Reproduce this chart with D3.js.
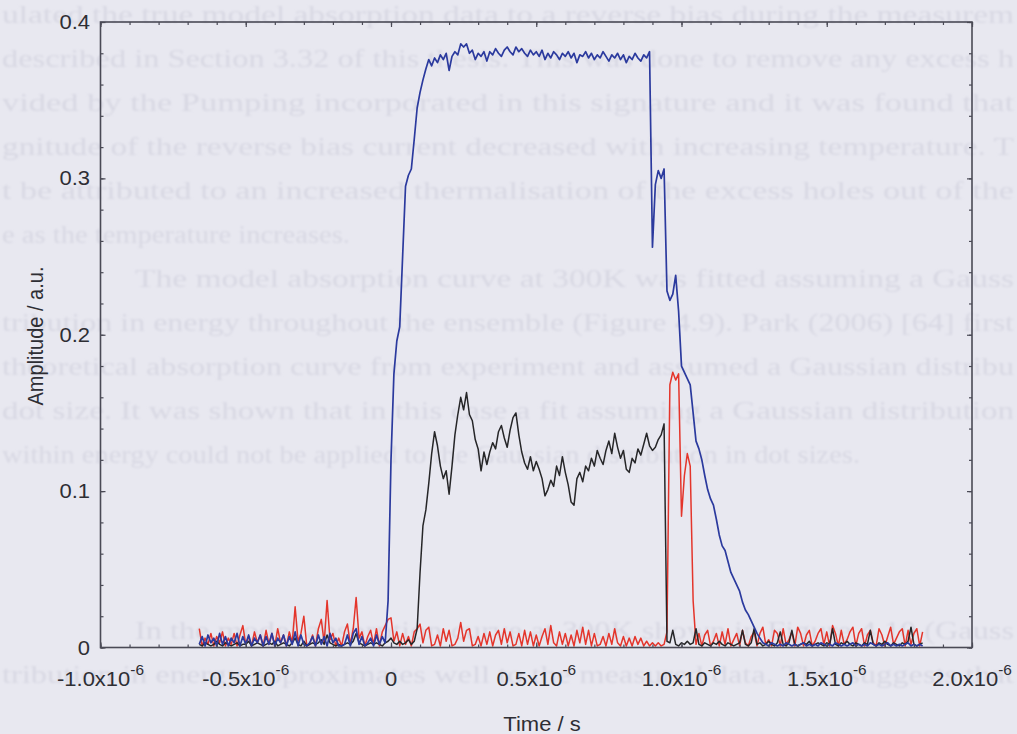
<!DOCTYPE html>
<html>
<head>
<meta charset="utf-8">
<script src="https://cdn.jsdelivr.net/npm/d3@7"></script>
<style>
  html, body { margin: 0; padding: 0; background: #e8e8f0; }
  svg { display: block; }
</style>
</head>
<body>
<svg id="chart" width="1017" height="734"></svg>
<script>
// Digitiser time base: first sample and sample spacing (seconds)
const sampleStart = -0.66e-6;
const sampleStep = 1e-8;

// Blue trace amplitude (a.u.), one value per sample
const blueTrace = [
  0.002,0.007,0.001,0.008,0.003,0.006,0.001,0.009,0.002,0.007,
  0.001,0.006,0.003,0.009,0.001,0.007,0.002,0.008,0.001,0.006,
  0.003,0.008,0.001,0.007,0.002,0.009,0.001,0.006,0.003,0.008,
  0.001,0.007,0.002,0.010,0.001,0.008,0.002,0.001,0.003,0.007,
  0.001,0.008,0.002,0.007,0.001,0.009,0.003,0.006,0.001,0.001,
  0.002,0.008,0.001,0.009,0.012,0.002,0.007,0.001,0.003,0.006,
  0.001,0.008,0.002,0.007,0.003,
  0.030,0.120,0.175,0.196,0.205,0.250,0.295,0.302,0.306,0.325,0.345,0.355,0.363,0.370,0.376,0.372,
  0.377,0.374,0.379,0.376,0.380,0.369,0.378,0.381,0.379,0.386,
  0.384,0.386,0.380,0.382,0.376,0.380,0.378,0.381,0.375,0.381,
  0.379,0.383,0.380,0.378,0.382,0.384,0.381,0.379,0.384,0.381,
  0.383,0.380,0.378,0.382,0.379,0.381,0.378,0.382,0.376,0.380,
  0.377,0.381,0.379,0.376,0.380,0.378,0.381,0.377,0.380,0.374,
  0.379,0.378,0.381,0.377,0.380,0.376,0.379,0.377,0.381,0.378,
  0.375,0.379,0.377,0.380,0.376,0.379,0.374,0.378,0.376,0.380,
  0.377,0.375,0.379,0.377,0.381,
  0.256,0.296,0.305,0.300,0.306,0.228,0.222,0.226,0.238,0.215,
  0.180,0.176,0.172,0.168,0.150,0.132,0.127,0.120,0.110,0.101,
  0.095,0.091,0.082,0.072,0.065,0.062,0.055,0.048,0.044,0.040,
  0.036,0.029,0.024,0.021,0.017,0.013,0.009,0.006,0.003,
  0.002,0.001,0.003,0.002,0.001,0.002,0.001,0.003,0.002,0.001,
  0.002,0.001,0.002,0.003,0.001,0.002,0.001,0.002,0.001,0.003,
  0.002,0.001,0.002,0.001,0.003,0.002,0.001,0.002,0.001,0.002,
  0.003,0.001,0.002,0.001,0.002,0.001,0.003,0.002,0.001,0.002,
  0.001,0.002,0.003,0.001,0.002,0.001,0.002,0.001,0.002,0.003,
  0.001,0.002,0.001,0.002,0.001
];

// Red trace amplitude (a.u.)
const redTrace = [
  0.012,0.001,0.006,0.002,0.009,0.001,0.007,0.003,0.010,0.001,
  0.006,0.002,0.009,0.001,0.008,0.014,0.002,0.007,0.001,0.010,
  0.003,0.008,0.001,0.011,0.002,0.009,0.001,0.012,0.003,0.008,
  0.001,0.010,0.003,0.026,0.004,0.009,0.020,0.001,0.002,0.008,
  0.001,0.012,0.018,0.003,0.030,0.005,0.009,0.001,0.006,0.001,
  0.010,0.015,0.002,0.012,0.032,0.006,0.010,0.001,0.007,0.011,
  0.002,0.012,0.001,0.010,0.014,0.018,
  0.019,0.004,0.010,0.001,0.009,0.002,0.007,0.001,0.010,0.012,
  0.015,0.003,0.011,0.013,0.001,0.002,0.008,0.001,0.012,0.004,
  0.011,0.001,0.002,0.006,0.016,0.004,0.011,0.012,0.001,0.002,
  0.007,0.001,0.009,0.002,0.010,0.001,0.008,0.011,0.002,0.012,
  0.003,0.010,0.001,0.002,0.009,0.001,0.011,0.002,0.010,0.001,
  0.008,0.001,0.007,0.012,0.002,0.014,0.003,0.001,0.010,0.002,
  0.009,0.001,0.008,0.001,0.011,0.003,0.013,0.002,0.011,0.001,
  0.009,0.001,0.002,0.007,0.001,0.009,0.002,0.012,0.003,0.001,
  0.007,0.001,0.006,0.001,0.007,0.002,0.006,0.001,0.004,0.001,
  0.003,0.001,0.003,0.001,0.002,0.010,
  0.168,0.176,0.171,0.175,0.084,0.110,0.124,0.116,0.030,
  0.002,0.009,0.001,0.008,0.011,0.001,0.004,0.009,0.001,0.010,
  0.002,0.012,0.001,0.005,0.009,0.001,0.011,0.003,0.001,0.007,
  0.010,0.001,0.009,0.013,0.002,0.005,0.001,0.011,0.009,0.001,
  0.012,0.002,0.005,0.010,0.001,0.013,0.009,0.001,0.008,0.011,
  0.001,0.004,0.009,0.012,0.002,0.010,0.001,0.014,0.009,0.001,
  0.011,0.002,0.005,0.010,0.013,0.001,0.009,0.012,0.001,0.008,
  0.011,0.003,0.001,0.012,0.008,0.001,0.007,0.013,0.002,0.006,
  0.010,0.012,0.001,0.011,0.002,0.009,0.012,0.001,0.010
];

// Black trace amplitude (a.u.)
const blackTrace = [
  0.002,0.001,0.003,0.002,0.001,0.002,0.004,0.002,0.001,0.003,
  0.002,0.001,0.002,0.003,0.001,0.002,0.002,0.004,0.001,0.002,
  0.003,0.002,0.001,0.002,0.003,0.002,0.004,0.001,0.002,0.003,
  0.002,0.001,0.003,0.006,0.002,0.001,0.004,0.001,0.002,0.003,
  0.002,0.003,0.005,0.002,0.008,0.003,0.002,0.001,0.002,0.001,
  0.002,0.003,0.002,0.004,0.009,0.003,0.002,0.001,0.002,0.003,
  0.002,0.003,0.002,0.001,0.003,0.004,0.006,0.003,0.002,0.004,
  0.002,0.003,0.005,0.002,0.004,
  0.012,0.048,0.078,0.088,0.105,0.124,0.138,0.129,0.116,0.108,
  0.113,0.098,0.116,0.136,0.149,0.160,0.152,0.163,0.149,0.145,
  0.133,0.127,0.113,0.125,0.117,0.125,0.131,0.127,0.138,0.142,
  0.134,0.128,0.139,0.147,0.150,0.136,0.125,0.118,0.114,0.122,
  0.113,0.119,0.114,0.108,0.097,0.101,0.107,0.103,0.116,0.110,
  0.122,0.112,0.104,0.093,0.091,0.108,0.112,0.106,0.116,0.113,
  0.121,0.116,0.126,0.121,0.117,0.126,0.132,0.124,0.137,0.128,
  0.121,0.126,0.114,0.112,0.121,0.118,0.127,0.123,0.130,0.137,
  0.129,0.126,0.128,0.133,0.136,0.143,
  0.004,
  0.003,0.011,0.002,0.001,0.003,0.002,0.004,0.002,0.003,0.012,
  0.002,0.001,0.003,0.002,0.001,0.003,0.002,0.004,0.002,0.001,
  0.003,0.002,0.001,0.002,0.003,0.011,0.002,0.001,0.003,0.012,
  0.002,0.003,0.001,0.002,0.004,0.002,0.001,0.003,0.010,0.002,
  0.001,0.003,0.011,0.002,0.001,0.002,0.003,0.002,0.004,0.001,
  0.002,0.003,0.002,0.001,0.003,0.002,0.012,0.002,0.001,0.003,
  0.002,0.004,0.002,0.001,0.003,0.002,0.001,0.003,0.002,0.011,
  0.002,0.001,0.003,0.002,0.004,0.002,0.001,0.003,0.002,0.001,
  0.003,0.002,0.004,0.013,0.002,0.001,0.002,0.003
];

// Axis ticks and labels
const xMajorTicks = [-1e-6, -0.5e-6, 0, 0.5e-6, 1e-6, 1.5e-6, 2e-6];
const xTickMantissa = ["-1.0", "-0.5", "0", "0.5", "1.0", "1.5", "2.0"];
const xTickExponent = "-6";
const yMajorTicks = [0, 0.1, 0.2, 0.3, 0.4];
const yTickLabels = ["0", "0.1", "0.2", "0.3", "0.4"];
const xTitle = "Time / s";
const yTitle = "Amplitude / a.u.";

// Printed page text showing through behind the figure
const pageLines = [
  "ulated the true model absorption data to a reverse bias during the measurem",
  "described in Section 3.32 of this thesis. This was done to remove any excess h",
  "vided by the Pumping incorporated in this signature and it was found that",
  "gnitude of the reverse bias current decreased with increasing temperature. T",
  "t be attributed to an increased thermalisation of the excess holes out of the",
  "e as the temperature increases.",
  "The model absorption curve at 300K was fitted assuming a Gauss",
  "tribution in energy throughout the ensemble (Figure 4.9). Park (2006) [64] first",
  "theoretical absorption curve from experiment and assumed a Gaussian distribu",
  "dot size. It was shown that in this case a fit assuming a Gaussian distribution",
  "within energy could not be applied to the Gaussian distribution in dot sizes.",
  null, null, null,
  "In the model absorption curve at 300K shown in Figure 4.10 (Gauss",
  "tribution in energy approximates well to the measured data. This suggests that"
];
// horizontal extent [start, end] of each printed line
const pageLineSpan = [
  [2, 1014], [2, 1014], [2, 1014], [2, 1014], [2, 1014], [2, 350],
  [135, 1014], [2, 1014], [2, 1014], [2, 1014], [2, 860],
  null, null, null,
  [135, 1014], [2, 1014]
];

const W = 1017, H = 734;
const plot = { left: 100.5, right: 972, top: 22, bottom: 647.5 };
const ink = "#4a4a56";
const labelFont = "'Liberation Sans', Arial, sans-serif";
const labelSize = 20;
const stretch = 1.1;

const svg = d3.select("#chart");
const defs = svg.append("defs");
defs.append("filter").attr("id", "soft")
  .append("feGaussianBlur").attr("stdDeviation", 1);
defs.append("clipPath").attr("id", "plotClip")
  .append("rect")
  .attr("x", plot.left).attr("y", plot.top)
  .attr("width", plot.right - plot.left).attr("height", plot.bottom - plot.top);

svg.append("rect").attr("width", W).attr("height", H).attr("fill", "#e8e8f0");

// page text behind the figure
const page = svg.append("g").attr("filter", "url(#soft)")
  .attr("font-family", "'Liberation Serif', 'Times New Roman', serif")
  .attr("font-size", 26).attr("fill", "#d8d8e3");
pageLines.forEach((line, i) => {
  if (!line) return;
  const [a, b] = pageLineSpan[i];
  page.append("text")
    .attr("x", a).attr("y", 23 + i * 44)
    .attr("textLength", b - a).attr("lengthAdjust", "spacingAndGlyphs")
    .text(line);
});

const x = d3.scaleLinear().domain([-1e-6, 2e-6]).range([plot.left, plot.right]);
const y = d3.scaleLinear().domain([0, 0.4]).range([plot.bottom, plot.top]);

const traceLine = d3.line()
  .x((d, i) => x(sampleStart + i * sampleStep))
  .y(d => y(d));

const traces = svg.append("g").attr("clip-path", "url(#plotClip)");
[
  { data: redTrace, color: "#e4352b", width: 1.5 },
  { data: blackTrace, color: "#262628", width: 1.5 },
  { data: blueTrace, color: "#2b3a9e", width: 1.7 }
].forEach(s => {
  traces.append("path")
    .datum(s.data)
    .attr("d", traceLine)
    .attr("fill", "none")
    .attr("stroke", s.color)
    .attr("stroke-width", s.width)
    .attr("stroke-linejoin", "round");
});

// frame with inward ticks on all four sides
function tickRow(axis, values, size, translate) {
  svg.append("g")
    .attr("transform", translate)
    .call(axis.tickValues(values).tickSize(size).tickSizeOuter(0).tickFormat(""))
    .call(g => g.select(".domain").remove())
    .call(g => g.selectAll("line").attr("stroke", ink).attr("stroke-width", 1.2));
}
const xMinor = x.ticks(30);
const yMinor = y.ticks(20);
tickRow(d3.axisBottom(x), xMajorTicks, -5, `translate(0,${plot.bottom})`);
tickRow(d3.axisBottom(x), xMinor, -3, `translate(0,${plot.bottom})`);
tickRow(d3.axisTop(x), xMajorTicks, -5, `translate(0,${plot.top})`);
tickRow(d3.axisTop(x), xMinor, -3, `translate(0,${plot.top})`);
tickRow(d3.axisLeft(y), yMajorTicks, -5, `translate(${plot.left},0)`);
tickRow(d3.axisLeft(y), yMinor, -3, `translate(${plot.left},0)`);
tickRow(d3.axisRight(y), yMajorTicks, -5, `translate(${plot.right},0)`);
tickRow(d3.axisRight(y), yMinor, -3, `translate(${plot.right},0)`);

svg.append("rect")
  .attr("x", plot.left).attr("y", plot.top)
  .attr("width", plot.right - plot.left).attr("height", plot.bottom - plot.top)
  .attr("fill", "none").attr("stroke", ink).attr("stroke-width", 1.6);

// x tick labels, "m x10^-6" centred on each tick
const labels = svg.append("g").attr("font-family", labelFont).attr("fill", "#2e2e34");
xMajorTicks.forEach((v, i) => {
  const g = labels.append("g")
    .attr("transform", `translate(${x(v)},686) scale(${stretch},1)`);
  const t = g.append("text").attr("font-size", labelSize);
  if (xTickMantissa[i] === "0") {
    t.text("0");
  } else {
    t.append("tspan").text(xTickMantissa[i] + "x10");
    t.append("tspan").attr("dy", -11).attr("font-size", 14).text(xTickExponent);
  }
  const w = t.node().getComputedTextLength();
  t.attr("x", -w / 2);
});

// y tick labels
yMajorTicks.forEach((v, i) => {
  labels.append("text")
    .attr("transform", `translate(90,${y(v) + 7}) scale(${stretch},1)`)
    .attr("text-anchor", "end").attr("font-size", labelSize)
    .text(yTickLabels[i]);
});

// axis titles
labels.append("text")
  .attr("transform", `translate(542,731) scale(${stretch},1)`)
  .attr("text-anchor", "middle").attr("font-size", labelSize)
  .text(xTitle);
labels.append("text")
  .attr("transform", `translate(43,336) scale(${stretch},1) rotate(-90)`)
  .attr("text-anchor", "middle").attr("font-size", labelSize)
  .text(yTitle);
</script>
</body>
</html>
